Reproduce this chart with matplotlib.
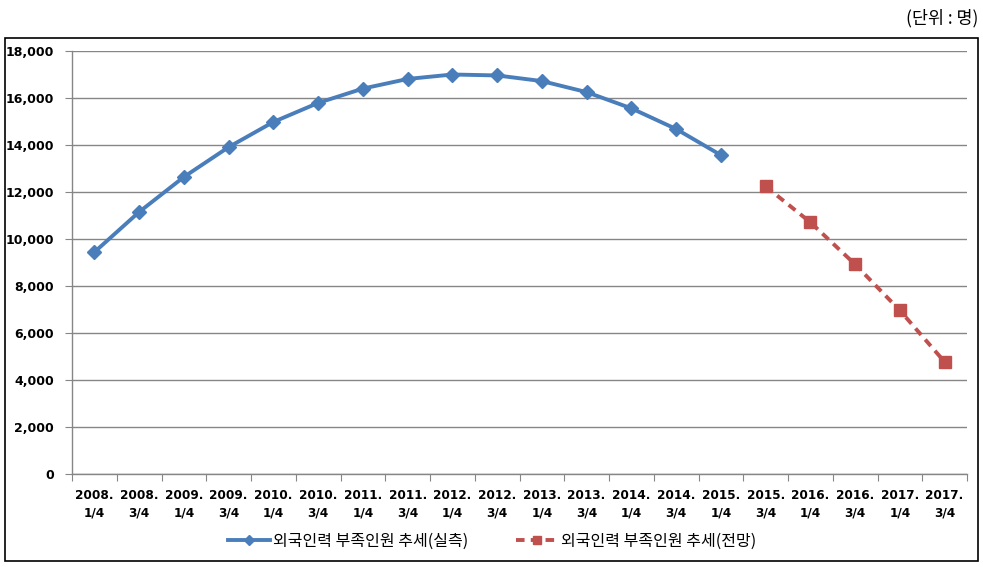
import numpy as np
import matplotlib as mpl
mpl.use('Agg')
from matplotlib import pyplot as plt
from matplotlib.patches import Rectangle

plt.rcParams['font.family'] = ['Noto Sans CJK KR', 'DejaVu Sans']

# data
quarters = ['2008.\n1/4', '2008.\n3/4', '2009.\n1/4', '2009.\n3/4', '2010.\n1/4',
            '2010.\n3/4', '2011.\n1/4', '2011.\n3/4', '2012.\n1/4', '2012.\n3/4',
            '2013.\n1/4', '2013.\n3/4', '2014.\n1/4', '2014.\n3/4', '2015.\n1/4',
            '2015.\n3/4', '2016.\n1/4', '2016.\n3/4', '2017.\n1/4', '2017.\n3/4']
actual = [9440, 11150, 12640, 13910, 14980, 15790, 16400, 16810, 17000,
          16960, 16720, 16250, 15560, 14680, 13570]
forecast = [12240, 10710, 8920, 6960, 4770]
label_actual = '외국인력 부족인원 추세(실측)'
label_forecast = '외국인력 부족인원 추세(전망)'

W, H = 983, 567
fig = plt.figure(figsize=(W / 100, H / 100), dpi=100)
ax = fig.add_axes([72 / W, 1 - 474 / H, (967 - 72) / W, (474 - 51) / H])

x_all = np.arange(len(quarters)) + 0.5
x_act = x_all[:len(actual)]
x_fc = x_all[len(actual):]

ax.plot(x_act, actual, color='#4A7EBB', lw=2.8, marker='D', ms=7.5,
        label=label_actual, zorder=3)
ax.plot(x_fc, forecast, color='#C0504D', lw=2.8, ls=(0, (2.2, 1.6)), marker='s', ms=9,
        label=label_forecast, zorder=3)

ax.set_xlim(0, len(quarters))
ax.set_ylim(0, 18000)
ax.set_yticks(np.arange(0, 18001, 2000))
ax.set_yticklabels([f'{v:,}' for v in range(0, 18001, 2000)], fontsize=9,
                   fontweight='bold', family=['DejaVu Sans'])
ax.yaxis.grid(True, color='#868686', lw=1)
ax.set_axisbelow(True)

ax.set_xticks(np.arange(0, len(quarters) + 1))
ax.set_xticklabels([])
ax.set_xticks(x_all, minor=True)
ax.set_xticklabels(quarters, minor=True, fontsize=8.7, fontweight='bold',
                   family=['DejaVu Sans'], linespacing=1.4)
ax.tick_params(axis='x', which='major', direction='out', length=5, color='#868686')
ax.tick_params(axis='x', which='minor', length=0, pad=11)
ax.tick_params(axis='y', direction='out', length=5, color='#868686', pad=8)

for s in ['top', 'right']:
    ax.spines[s].set_visible(False)
for s in ['left', 'bottom']:
    ax.spines[s].set_color('#868686')
    ax.spines[s].set_linewidth(1)

fig.legend(loc='center', bbox_to_anchor=(492 / W, 1 - 541 / H), ncol=2,
           frameon=False, prop={'size': 11.5, 'weight': 'medium'},
           handlelength=2.6, columnspacing=3.0, handletextpad=0.2, markerscale=0.7)

fig.patches.append(Rectangle((5 / W, 1 - 561 / H), (978 - 5) / W, (561 - 38) / H,
                             transform=fig.transFigure, fill=False, ec='black', lw=1.2))
fig.text(978 / W, 1 - 18 / H, '(단위 : 명)', ha='right', va='center', fontsize=12.5)

fig.savefig('out.png', dpi=100)
